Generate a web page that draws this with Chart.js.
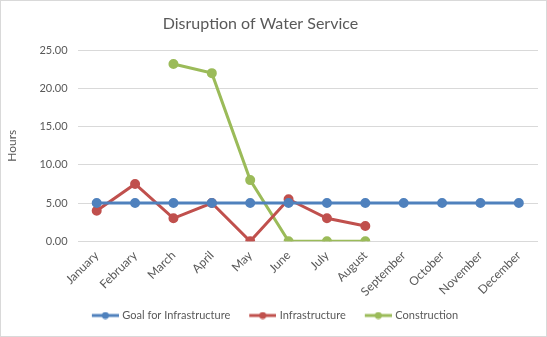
<!DOCTYPE html>
<html>
<head>
<meta charset="utf-8">
<script src="https://cdn.jsdelivr.net/npm/chart.js@4.4.1/dist/chart.umd.min.js"></script>
<style>
  html, body { margin: 0; padding: 0; background: #fff; }
  #wrap { width: 547px; height: 337px; box-sizing: border-box; border: 1px solid #d9d9d9; position: relative; }
  canvas { display: block; }
</style>
</head>
<body>
<div id="wrap"><canvas id="chart" width="545" height="335"></canvas></div>
<script>
const months = ['January', 'February', 'March', 'April', 'May', 'June', 'July', 'August', 'September', 'October', 'November', 'December'];
const goalValues = [5, 5, 5, 5, 5, 5, 5, 5, 5, 5, 5, 5];
const infraValues = [4, 7.5, 3, 5, 0, 5.5, 3, 2, null, null, null, null];
const constructionValues = [null, null, 23.2, 22, 8, 0, 0, 0, null, null, null, null];
const seriesNames = ['Goal for Infrastructure', 'Infrastructure', 'Construction'];
const seriesColors = ['#4f81bd', '#c0504d', '#9bbb59'];

// line-with-dot marker for the legend, blank space on its left keeps items apart
function legendMarker(color) {
    const c = document.createElement('canvas');
    c.width = 44;
    c.height = 8;
    const g = c.getContext('2d');
    g.strokeStyle = color;
    g.lineWidth = 3;
    g.beginPath();
    g.moveTo(17, 4);
    g.lineTo(44, 4);
    g.stroke();
    g.fillStyle = color;
    g.beginPath();
    g.arc(30.5, 4, 3.5, 0, Math.PI * 2);
    g.fill();
    return c;
}

function makeSeries(label, data, color) {
    return {
        label: label,
        data: data,
        borderColor: color,
        backgroundColor: color,
        borderWidth: 3,
        pointStyle: 'circle',
        pointRadius: 3.5,
        pointHoverRadius: 4,
        pointBackgroundColor: color,
        pointBorderColor: color,
        tension: 0,
        spanGaps: false
    };
}

// title and legend sit a bit left of centre in the original
const blockShift = {
    id: 'blockShift',
    afterLayout: function(chart) {
        chart.titleBlock.left -= 11;
        chart.titleBlock.right -= 11;
        chart.legend.left -= 4;
        chart.legend.right -= 4;
    }
};

const textColor = '#595959';
Chart.defaults.font.family = 'Lato, "Open Sans", sans-serif';
Chart.defaults.color = textColor;

new Chart(document.getElementById('chart').getContext('2d'), {
    type: 'line',
    data: {
        labels: months,
        datasets: [
            makeSeries(seriesNames[0], goalValues, seriesColors[0]),
            makeSeries(seriesNames[1], infraValues, seriesColors[1]),
            makeSeries(seriesNames[2], constructionValues, seriesColors[2])
        ]
    },
    plugins: [blockShift],
    options: {
        responsive: false,
        animation: false,
        layout: {
            padding: { left: 4, right: 8, top: 4, bottom: 5 }
        },
        plugins: {
            title: {
                display: true,
                text: 'Disruption of Water Service',
                color: textColor,
                font: { size: 16, weight: 'normal' },
                padding: { top: 9, bottom: 17 }
            },
            legend: {
                position: 'bottom',
                align: 'center',
                labels: {
                    usePointStyle: true,
                    pointStyleWidth: 40,
                    boxHeight: 8,
                    color: textColor,
                    font: { size: 11, lineHeight: 1 },
                    padding: 4,
                    generateLabels: function(chart) {
                        return chart.data.datasets.map(function(ds, i) {
                            return {
                                text: ds.label,
                                pointStyle: legendMarker(seriesColors[i]),
                                fillStyle: seriesColors[i],
                                strokeStyle: seriesColors[i],
                                lineWidth: 0,
                                fontColor: textColor,
                                datasetIndex: i
                            };
                        });
                    }
                }
            },
            tooltip: { enabled: false }
        },
        scales: {
            x: {
                offset: true,
                grid: { display: false, drawTicks: false },
                border: { display: false },
                ticks: {
                    color: textColor,
                    font: { size: 12 },
                    maxRotation: 45,
                    minRotation: 45,
                    padding: 7
                }
            },
            y: {
                min: 0,
                max: 25,
                grid: { color: '#d9d9d9', drawTicks: false },
                border: { display: false },
                ticks: {
                    stepSize: 5,
                    color: textColor,
                    font: { size: 11 },
                    padding: 10,
                    callback: function(v) { return v.toFixed(2); }
                },
                title: {
                    display: true,
                    text: 'Hours',
                    color: textColor,
                    font: { size: 12 },
                    padding: { top: 0, bottom: 10 }
                }
            }
        }
    }
});
</script>
</body>
</html>
